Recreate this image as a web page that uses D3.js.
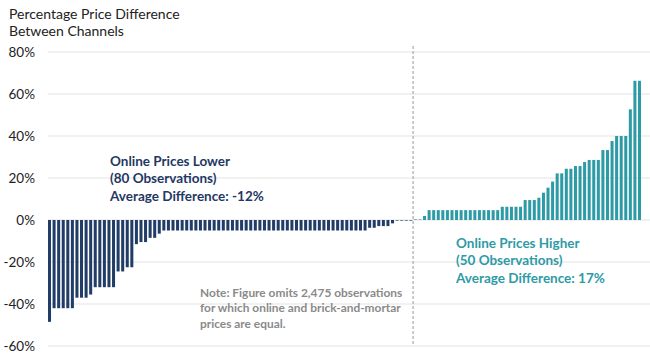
<!DOCTYPE html>
<html>
<head>
<meta charset="utf-8">
<script src="https://cdn.jsdelivr.net/npm/d3@7"></script>
<style>
  html, body { margin: 0; padding: 0; background: #fff; }
  svg { display: block; }
  text { font-family: Lato, "Open Sans", sans-serif; }
</style>
</head>
<body>
<svg id="chart" width="650" height="358"></svg>
<script>
// ---- Data (percent price difference, online vs brick-and-mortar) ----
const lowerValues = [
  -48.5,
  -42, -42, -42, -42, -42,
  -37, -37, -37,
  -35.5,
  -32, -32, -32, -32, -32,
  -24.5, -24.5,
  -22.5, -22.5,
  -11.5,
  -10.5, -10.5,
  -8.5, -8.5,
  -6.5,
  -5, -5, -5, -5, -5, -5, -5, -5, -5, -5,
  -5, -5, -5, -5, -5, -5, -5, -5, -5, -5,
  -5, -5, -5, -5, -5, -5, -5, -5, -5, -5,
  -5, -5, -5, -5, -5, -5, -5, -5, -5, -5,
  -5, -5, -5, -5, -5,
  -3.7, -3.7,
  -2.9, -2.9, -2.9,
  -1.6,
  -0.3, -0.3, -0.3, -0.3
];
const higherValues = [
  0.3, 0.3,
  1.9,
  4.7, 4.7, 4.7, 4.7, 4.7, 4.7, 4.7, 4.7,
  4.7, 4.7, 4.7, 4.7, 4.7, 4.7, 4.7, 4.7,
  6.3, 6.3, 6.3, 6.3, 6.3,
  9.5, 9.5, 9.5,
  10.6, 13, 15.4, 18.3,
  22.2, 22.2,
  24.4, 24.4,
  25.7, 25.7,
  27.6,
  28.6, 28.6, 28.6,
  33.3, 33.3,
  37.6,
  40, 40, 40,
  52.7,
  66.3, 66.3
];
const yTicks = [-60, -40, -20, 0, 20, 40, 60, 80];
const titleLines = ["Percentage Price Difference", "Between Channels"];
const lowerLabel = ["Online Prices Lower", "(80 Observations)", "Average Difference: -12%"];
const higherLabel = ["Online Prices Higher", "(50 Observations)", "Average Difference: 17%"];
const noteLines = ["Note: Figure omits 2,475 observations", "for which online and brick-and-mortar", "prices are equal."];

// ---- Build ----
const navy = "#213d67";
const teal = "#2c9ba6";
const data = lowerValues.map(v => ({ v, g: "lower" }))
  .concat(higherValues.map(v => ({ v, g: "higher" })));
data.forEach((d, i) => d.i = i);

const svg = d3.select("#chart");
const x = d3.scaleBand().domain(data.map(d => d.i)).range([48, 641]).paddingInner(0.34).paddingOuter(0);
const y = d3.scaleLinear().domain([-60, 80]).range([346, 52]);

// gridlines
svg.append("g").selectAll("line").data(yTicks).join("line")
  .attr("x1", 48).attr("x2", 650)
  .attr("y1", d => y(d)).attr("y2", d => y(d))
  .attr("stroke", "#e3e3e3").attr("stroke-width", 1);

// y labels
svg.append("g").selectAll("text").data(yTicks).join("text")
  .attr("x", 35).attr("y", d => y(d))
  .attr("dy", "0.35em").attr("text-anchor", "end")
  .attr("font-size", 13.5).attr("fill", "#222")
  .text(d => d + "%");

// bars
svg.append("g").selectAll("rect").data(data).join("rect")
  .attr("x", d => x(d.i))
  .attr("width", x.bandwidth())
  .attr("y", d => y(Math.max(0, d.v)))
  .attr("height", d => Math.abs(y(d.v) - y(0)))
  .attr("fill", d => d.g === "lower" ? navy : teal);

// vertical dashed divider
const divX = x(lowerValues.length) - x.step() * x.paddingInner() / 2;
svg.append("line")
  .attr("x1", divX).attr("x2", divX)
  .attr("y1", y(80) - 6).attr("y2", y(-60))
  .attr("stroke", "#aaaaaa").attr("stroke-width", 1.2)
  .attr("stroke-dasharray", "3,2");

// title
svg.append("g").selectAll("text").data(titleLines).join("text")
  .attr("x", 9).attr("y", (d, i) => 19 + i * 17)
  .attr("font-size", 14).attr("fill", "#222")
  .text(d => d);

// annotations
function block(lines, x0, y0, lh, size, color) {
  svg.append("g").selectAll("text").data(lines).join("text")
    .attr("x", x0).attr("y", (d, i) => y0 + i * lh)
    .attr("dy", "0.35em")
    .attr("font-size", size).attr("font-weight", "bold").attr("fill", color)
    .text(d => d);
}
block(lowerLabel, 110, 161, 17.5, 13.5, "#1f3864");
block(higherLabel, 456, 243, 17.5, 13.5, "#2e9aa6");
block(noteLines, 200, 292.5, 15.5, 11.9, "#8a8a8a");
</script>
</body>
</html>
